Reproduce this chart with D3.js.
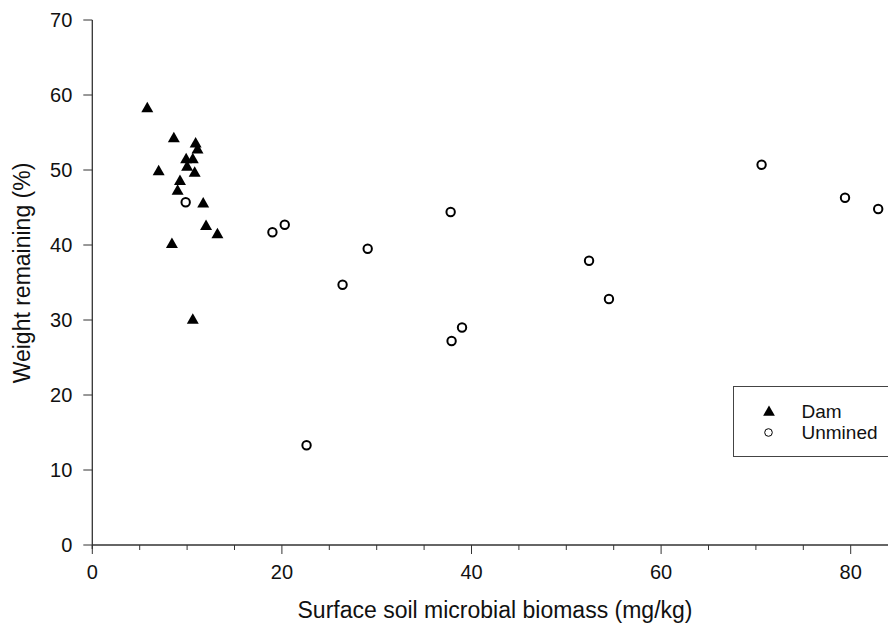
<!DOCTYPE html>
<html>
<head>
<meta charset="utf-8">
<script src="https://cdn.jsdelivr.net/npm/d3@7"></script>
<style>
  body { margin: 0; background: #fff; }
  text { font-family: "Liberation Sans", Arial, sans-serif; fill: #111; }
</style>
</head>
<body>
<svg width="888" height="625"></svg>
<script>
// series: [biomass (mg/kg), weight remaining (%)]
const damX = [5.8, 8.6, 10.9, 11.1, 9.9, 10.6, 10.0, 10.8, 7.0, 9.25, 9.0, 11.7, 12.0, 13.2, 8.4, 10.6];
const damY = [58.4, 54.4, 53.7, 52.9, 51.6, 51.6, 50.6, 49.8, 50.0, 48.7, 47.4, 45.7, 42.7, 41.6, 40.3, 30.2];

const unminedX = [9.85, 19.0, 20.3, 37.8, 29.05, 26.4, 39.0, 37.9, 22.6, 52.4, 54.5, 70.6, 79.4, 82.9];
const unminedY = [45.7, 41.7, 42.7, 44.4, 39.5, 34.7, 29.0, 27.2, 13.3, 37.9, 32.8, 50.7, 46.3, 44.8];

const xTicks = [0, 20, 40, 60, 80];
const xMinor = d3.range(0, 100, 5);
const yTicks = [0, 10, 20, 30, 40, 50, 60, 70];
const legendLabels = ["Dam", "Unmined"];

const svg = d3.select("svg");

const x = d3.scaleLinear().domain([0, 80]).range([92.3, 850.7]);
const y = d3.scaleLinear().domain([0, 70]).range([545, 20]);

const axisColor = "#333";

// x axis (runs off the right edge)
const gx = svg.append("g").attr("transform", `translate(0,${y(0)})`);
gx.append("line")
  .attr("x1", x(0)).attr("x2", 900)
  .attr("stroke", axisColor).attr("stroke-width", 1.3);
gx.selectAll(".minor").data(xMinor.filter(d => d % 20 !== 0)).join("line")
  .attr("x1", d => x(d)).attr("x2", d => x(d))
  .attr("y1", 0).attr("y2", 5)
  .attr("stroke", axisColor);
gx.selectAll(".major").data(xTicks).join("line")
  .attr("x1", d => x(d)).attr("x2", d => x(d))
  .attr("y1", 0).attr("y2", 9)
  .attr("stroke", axisColor);
gx.selectAll("text").data(xTicks).join("text")
  .attr("x", d => x(d)).attr("y", 34)
  .attr("text-anchor", "middle")
  .attr("font-size", 20)
  .text(d => d);

// y axis
const gy = svg.append("g").attr("transform", `translate(${x(0)},0)`);
gy.append("line")
  .attr("y1", y(70)).attr("y2", y(0) + 4)
  .attr("stroke", axisColor).attr("stroke-width", 1.3);
gy.selectAll("line.tick").data(yTicks).join("line")
  .attr("class", "tick")
  .attr("x1", -9).attr("x2", 0)
  .attr("y1", d => y(d)).attr("y2", d => y(d))
  .attr("stroke", axisColor);
gy.selectAll("text").data(yTicks).join("text")
  .attr("x", -20).attr("y", d => y(d))
  .attr("dy", "0.36em")
  .attr("text-anchor", "end")
  .attr("font-size", 20)
  .text(d => d);

// axis titles
svg.append("text")
  .attr("x", 495).attr("y", 618)
  .attr("text-anchor", "middle")
  .attr("font-size", 23)
  .text("Surface soil microbial biomass (mg/kg)");

svg.append("text")
  .attr("transform", "translate(30,273) rotate(-90)")
  .attr("text-anchor", "middle")
  .attr("font-size", 23)
  .text("Weight remaining (%)");

// points (triangle shifted so its box, not its centroid, sits on the value)
const tri = d3.symbol().type(d3.symbolTriangle).size(62);
svg.append("g").selectAll("path").data(d3.range(damX.length)).join("path")
  .attr("d", tri)
  .attr("transform", i => `translate(${x(damX[i])},${y(damY[i]) + 1.7})`)
  .attr("fill", "#000");

svg.append("g").selectAll("circle").data(d3.range(unminedX.length)).join("circle")
  .attr("cx", i => x(unminedX[i]))
  .attr("cy", i => y(unminedY[i]))
  .attr("r", 4.2)
  .attr("fill", "#fff")
  .attr("stroke", "#000")
  .attr("stroke-width", 2);

// legend
const lg = svg.append("g");
lg.append("rect")
  .attr("x", 733.5).attr("y", 386.5)
  .attr("width", 160).attr("height", 70)
  .attr("fill", "none").attr("stroke", "#444").attr("stroke-width", 1);
lg.append("path")
  .attr("d", d3.symbol().type(d3.symbolTriangle).size(60))
  .attr("transform", "translate(769,412.4)")
  .attr("fill", "#000");
lg.append("circle")
  .attr("cx", 768.5).attr("cy", 432.5).attr("r", 3.8)
  .attr("fill", "#fff").attr("stroke", "#000").attr("stroke-width", 1);
lg.selectAll("text").data(legendLabels).join("text")
  .attr("x", 801.5)
  .attr("y", (d, i) => 411 + i * 21.5)
  .attr("dy", "0.36em")
  .attr("font-size", 19)
  .text(d => d);
</script>
</body>
</html>
